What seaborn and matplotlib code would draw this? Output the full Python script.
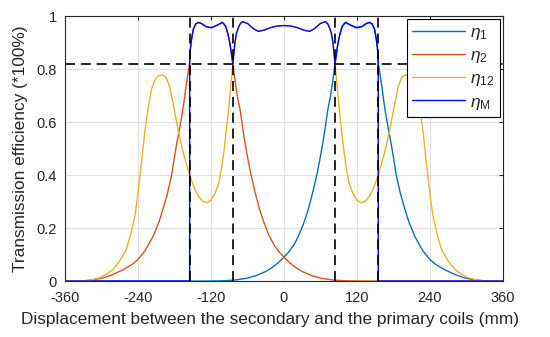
import matplotlib
matplotlib.use("Agg")
import matplotlib.pyplot as plt
import seaborn as sns
import pandas as pd

# ---------------- data ----------------
x_eta2 = [-360, -340, -325, -310, -295, -281, -265, -250, -240, -228, -215, -205, -199, -192,
          -185, -177, -172, -168, -164, -161, -158, -155,
          -154, -152, -149, -145, -141, -135, -128, -119, -110, -101, -96, -92, -89, -86.5, -84,
          -80, -76, -72, -66, -60, -54, -48, -40, -32, -24, -16, -8, 0, 10, 20, 30, 45, 60,
          80, 100, 130, 200, 360]
y_eta2 = [0, 0, 0.002, 0.006, 0.013, 0.025, 0.042, 0.062, 0.081, 0.115, 0.169, 0.225, 0.27, 0.325,
          0.395, 0.508, 0.57, 0.62, 0.68, 0.733, 0.78, 0.82,
          0.87, 0.91, 0.95, 0.97, 0.976, 0.971, 0.96, 0.956, 0.965, 0.976, 0.962, 0.932, 0.9, 0.862, 0.82,
          0.75, 0.69, 0.646, 0.55, 0.47, 0.40, 0.34, 0.27, 0.215, 0.17, 0.135, 0.11, 0.09, 0.068, 0.05,
          0.036, 0.021, 0.011, 0.004, 0.001, 0, 0, 0]

x_eta1 = [-360, -200, -130, -100, -80, -60, -45, -30, -20, -10, 0, 8, 16, 24, 32, 40, 48, 54, 60,
          66, 72, 76, 80,
          84, 86.5, 89, 92, 96, 101, 110, 119, 128, 135, 141, 145, 149, 152, 154,
          155, 158, 161, 164, 168, 172, 177, 185, 192, 199, 205, 215, 228, 240, 250, 265, 281,
          295, 310, 325, 340, 360]
y_eta1 = [0, 0, 0, 0.001, 0.004, 0.011, 0.021, 0.036, 0.05, 0.068, 0.09, 0.11, 0.135, 0.17, 0.215,
          0.27, 0.34, 0.40, 0.47, 0.55, 0.646, 0.69, 0.75,
          0.82, 0.862, 0.9, 0.932, 0.962, 0.976, 0.965, 0.956, 0.96, 0.971, 0.976, 0.97, 0.95, 0.91, 0.87,
          0.82, 0.78, 0.733, 0.68, 0.62, 0.57, 0.508, 0.395, 0.325, 0.27, 0.225, 0.169, 0.115, 0.081,
          0.062, 0.042, 0.025, 0.013, 0.006, 0.002, 0, 0]

x_eta12 = [-360, -340, -329, -315, -303, -292, -281, -270, -259, -252, -245, -241, -237, -233, -229,
           -224, -218, -212, -206, -200, -194, -188, -183, -177, -172, -166, -160, -155, -148, -141,
           -134, -127, -120, -113, -107, -102, -98, -94, -90, -87.5, -84,
           -80.5, -78, -75, -72, -68, -60, -50, -42, -32, -22, -12, 0, 12, 22, 32, 42, 50, 60, 68,
           72, 75, 78, 80.5,
           84, 87.5, 90, 94, 98, 102, 107, 113, 120, 127, 134, 141, 148, 155, 160, 166, 172, 177,
           183, 188, 194, 200, 206, 212, 218, 224, 229, 233, 237, 241, 245, 252, 259, 270, 281,
           292, 303, 315, 329, 340, 360]
y_eta12 = [0, 0, 0, 0.005, 0.0125, 0.025, 0.044, 0.075, 0.119, 0.175, 0.245, 0.31, 0.389, 0.47, 0.558,
           0.64, 0.721, 0.76, 0.775, 0.778, 0.77, 0.735, 0.68, 0.608, 0.55, 0.489, 0.44, 0.401, 0.355,
           0.322, 0.302, 0.295, 0.305, 0.332, 0.37, 0.433, 0.5, 0.583, 0.67, 0.733, 0.82,
           0.9, 0.935, 0.955, 0.97, 0.979, 0.972, 0.952, 0.942, 0.947, 0.956, 0.962, 0.964, 0.962,
           0.956, 0.947, 0.942, 0.952, 0.972, 0.979, 0.97, 0.955, 0.935, 0.9,
           0.82, 0.733, 0.67, 0.583, 0.5, 0.433, 0.37, 0.332, 0.305, 0.295, 0.302, 0.322, 0.355,
           0.401, 0.44, 0.489, 0.55, 0.608, 0.68, 0.735, 0.77, 0.778, 0.775, 0.76, 0.721, 0.64,
           0.558, 0.47, 0.389, 0.31, 0.245, 0.175, 0.119, 0.075, 0.044, 0.025, 0.0125, 0.005, 0, 0, 0]

x_etaM = [-360, -155, -155, -154, -152, -149, -145, -141, -135, -128, -119, -110, -101, -96, -92,
          -89, -86.5, -84, -80.5, -78, -75, -72, -68, -60, -50, -42, -32, -22, -12, 0, 12, 22, 32,
          42, 50, 60, 68, 72, 75, 78, 80.5, 84, 86.5, 89, 92, 96, 101, 110, 119, 128, 135, 141,
          145, 149, 152, 154, 155, 155, 360]
y_etaM = [0, 0, 0.82, 0.87, 0.91, 0.95, 0.97, 0.976, 0.971, 0.96, 0.956, 0.965, 0.976, 0.962, 0.932,
          0.9, 0.862, 0.82, 0.9, 0.935, 0.955, 0.97, 0.979, 0.972, 0.952, 0.942, 0.947, 0.956, 0.962,
          0.964, 0.962, 0.956, 0.947, 0.942, 0.952, 0.972, 0.979, 0.97, 0.955, 0.935, 0.9, 0.82,
          0.862, 0.9, 0.932, 0.962, 0.976, 0.965, 0.956, 0.96, 0.971, 0.976, 0.97, 0.95, 0.91,
          0.87, 0.82, 0, 0]

threshold = 0.82
boundaries = [-155, -84, 84, 155]

x_ticks = [-360, -240, -120, 0, 120, 240, 360]
x_tick_labels = ["-360", "-240", "-120", "0", "120", "240", "360"]
y_ticks = [0, 0.2, 0.4, 0.6, 0.8, 1.0]
y_tick_labels = ["0", "0.2", "0.4", "0.6", "0.8", "1"]

series_labels = [r"$\eta_{1}$", r"$\eta_{2}$", r"$\eta_{12}$", r"$\eta_{\mathrm{M}}$"]
series_colors = ["#0072BD", "#D95319", "#EDB120", "#0000FF"]

# ---------------- plotting ----------------
sns.set_theme(style="white")
plt.rcParams["font.family"] = ["Liberation Sans", "DejaVu Sans"]
plt.rcParams["mathtext.fontset"] = "custom"
plt.rcParams["mathtext.rm"] = "Liberation Sans"
plt.rcParams["mathtext.it"] = "Liberation Sans:italic"
plt.rcParams["axes.unicode_minus"] = False

fig = plt.figure(figsize=(5.5, 3.37), dpi=100)
ax = fig.add_axes([0.118, 0.166, 0.7965, 0.7865])

txt = "#262626"
series = [(x_eta1, y_eta1), (x_eta2, y_eta2), (x_eta12, y_eta12), (x_etaM, y_etaM)]
for (xs, ys), lab, col in zip(series, series_labels, series_colors):
    df = pd.DataFrame({"x": xs, "y": ys})
    sns.lineplot(data=df, x="x", y="y", ax=ax, sort=False, estimator=None,
                 color=col, lw=1.0, label=lab, zorder=3)

dash_style = (0, (6, 3.5))
ax.axhline(threshold, color="black", lw=1.2, linestyle=dash_style, zorder=4)
for b in boundaries:
    ax.axvline(b, color="black", lw=1.2, linestyle=dash_style, zorder=4)

ax.set_xlim(-360, 360)
ax.set_ylim(0, 1)
ax.set_xticks(x_ticks)
ax.set_xticklabels(x_tick_labels)
ax.set_yticks(y_ticks)
ax.set_yticklabels(y_tick_labels)
ax.grid(True, color="#e0e0e0", lw=0.8, zorder=0)
ax.set_axisbelow(True)
ax.tick_params(direction="in", length=3, width=0.8, top=True, right=True,
               labelsize=10.5, colors=txt)
ax.tick_params(axis="x", pad=7)
ax.tick_params(axis="y", pad=6)
for sp in ax.spines.values():
    sp.set_color(txt)
    sp.set_linewidth(0.8)

ax.set_xlabel("Displacement between the secondary and the primary coils (mm)",
              fontsize=12.4, color=txt, labelpad=7)
ax.xaxis.set_label_coords(0.468, -0.118)
ax.set_ylabel("Transmission efficiency (*100%)", fontsize=12.4, color=txt, labelpad=6)

leg = ax.legend(loc="upper right", fontsize=12.5, frameon=True, fancybox=False,
                edgecolor="black", framealpha=1, handlelength=3.0, labelspacing=0.35,
                borderaxespad=0.2, borderpad=0.3, handletextpad=0.3)
leg.get_frame().set_linewidth(0.8)
leg.set_zorder(10)

fig.savefig("out.png", dpi=100)
